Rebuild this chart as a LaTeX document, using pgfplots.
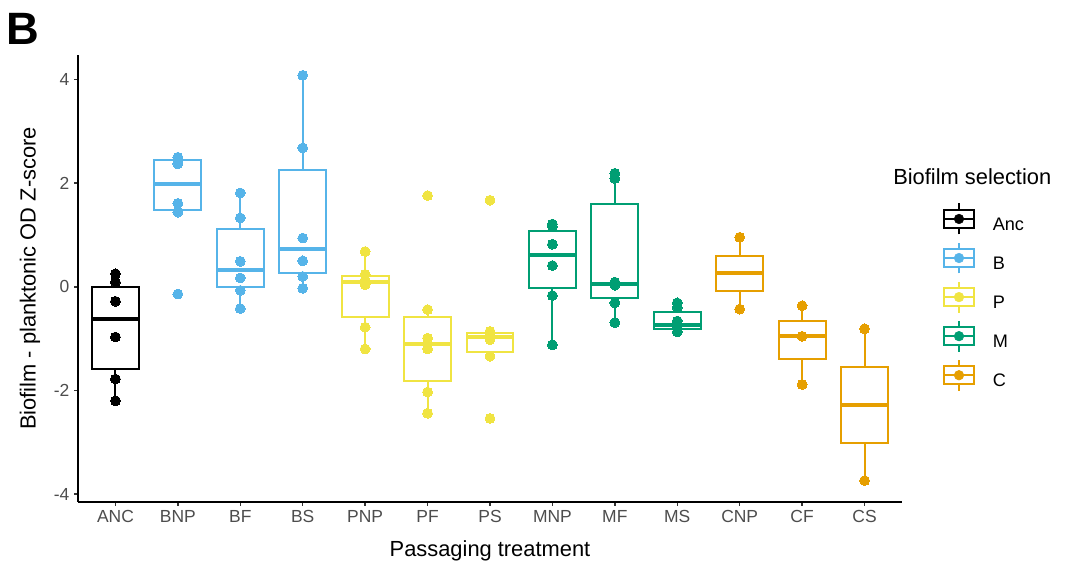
\documentclass[border=0pt]{standalone}
\usepackage{fontspec}
\setmainfont{Liberation Sans}
\usepackage{pgfplots}
\pgfplotsset{compat=1.18}
\usepgfplotslibrary{statistics}
\definecolor{cAnc}{HTML}{000000}
\definecolor{cB}{HTML}{56B4E9}
\definecolor{cP}{HTML}{F0E442}
\definecolor{cM}{HTML}{009E73}
\definecolor{cC}{HTML}{E69F00}
\definecolor{tickgray}{HTML}{4D4D4D}
\newcommand{\tickfont}{\fontsize{13.1}{15}\selectfont}
\newcommand{\titlefont}{\fontsize{16.4}{19}\selectfont}
\pgfplotsset{
  gbox/.style={draw=#1, line width=1.5pt, solid, fill=none, forget plot,
    boxplot/every box/.style={draw=#1, line width=1.5pt},
    boxplot/every whisker/.style={draw=#1, line width=1.5pt},
    boxplot/every median/.style={draw=#1, line width=3pt}},
  gpts/.style={only marks, mark=*, mark size=3.7pt, color=#1, mark options={draw=#1, fill=#1, line width=0pt},
    legend image code/.code={
      \draw[#1, line width=1.5pt] (0pt,-6.95pt) -- (0pt,-2.1pt) (0pt,11.4pt) -- (0pt,16.25pt);
      \draw[#1, line width=1.5pt, fill=white] (-11.6pt,-2.1pt) rectangle (11.6pt,11.4pt);
      \draw[#1, line width=1.5pt] (-11.6pt,4.65pt) -- (11.6pt,4.65pt);
      \fill[#1] (0pt,4.65pt) circle (3.6pt);
    }},
}
\begin{document}
\begin{tikzpicture}
\useasboundingbox (0,0) rectangle (805.5pt,429.75pt);
\begin{axis}[
  at={(58.5pt,53.25pt)}, anchor=south west,
  scale only axis, width=618pt, height=335.25pt,
  xmin=-0.6, xmax=12.6, ymin=-4.152, ymax=4.472,
  axis x line*=bottom, axis y line*=left,
  axis line style={line width=1.2pt, black, -},
  tick align=outside, major tick length=3pt,
  tick style={line width=1.1pt, color=black!80},
  xtick={0,1,2,3,4,5,6,7,8,9,10,11,12},
  xticklabels={ANC,BNP,BF,BS,PNP,PF,PS,MNP,MF,MS,CNP,CF,CS},
  ytick={-4,-2,0,2,4},
  yticklabels={-4,-2,0,2,4},
  ticklabel style={font=\tickfont, text=tickgray},
  xlabel={Passaging treatment},
  ylabel={Biofilm - planktonic OD Z-score},
  label style={font=\titlefont},
  xlabel style={at={(axis description cs:0.5,-0.1096)}, anchor=center},
  ylabel style={at={(axis description cs:-0.0583,0.5)}, anchor=center},
  boxplot/draw direction=y,
  boxplot/box extend=0.75,
  boxplot/whisker extend=0,
  legend style={at={(1.0492,0.670)}, anchor=north west, draw=none, fill=none,
    inner sep=0pt, outer sep=0pt, row sep=4.6pt, font=\fontsize{13.6}{15}\selectfont,
    nodes={inner sep=0pt},
    /tikz/every odd column/.append style={column sep=13pt}},
  legend cell align=left,
  clip=false,
]
% boxes
\addplot[gbox=cAnc, boxplot prepared={draw position=0, lower whisker=-2.20, lower quartile=-1.58, median=-0.63, upper quartile=0.00, upper whisker=0.25}] coordinates {};
\addplot[gbox=cB, boxplot prepared={draw position=1, lower whisker=1.44, lower quartile=1.48, median=1.99, upper quartile=2.44, upper whisker=2.50}] coordinates {};
\addplot[gbox=cB, boxplot prepared={draw position=2, lower whisker=-0.42, lower quartile=-0.01, median=0.33, upper quartile=1.12, upper whisker=1.81}] coordinates {};
\addplot[gbox=cB, boxplot prepared={draw position=3, lower whisker=-0.03, lower quartile=0.275, median=0.72, upper quartile=2.245, upper whisker=4.08}] coordinates {};
\addplot[gbox=cP, boxplot prepared={draw position=4, lower whisker=-1.20, lower quartile=-0.58, median=0.085, upper quartile=0.21, upper whisker=0.68}] coordinates {};
\addplot[gbox=cP, boxplot prepared={draw position=5, lower whisker=-2.44, lower quartile=-1.82, median=-1.10, upper quartile=-0.58, upper whisker=-0.44}] coordinates {};
\addplot[gbox=cP, boxplot prepared={draw position=6, lower whisker=-1.34, lower quartile=-1.25, median=-0.96, upper quartile=-0.885, upper whisker=-0.86}] coordinates {};
\addplot[gbox=cM, boxplot prepared={draw position=7, lower whisker=-1.12, lower quartile=-0.025, median=0.615, upper quartile=1.075, upper whisker=1.21}] coordinates {};
\addplot[gbox=cM, boxplot prepared={draw position=8, lower whisker=-0.69, lower quartile=-0.225, median=0.06, upper quartile=1.59, upper whisker=2.19}] coordinates {};
\addplot[gbox=cM, boxplot prepared={draw position=9, lower whisker=-0.87, lower quartile=-0.82, median=-0.73, upper quartile=-0.49, upper whisker=-0.31}] coordinates {};
\addplot[gbox=cC, boxplot prepared={draw position=10, lower whisker=-0.43, lower quartile=-0.09, median=0.26, upper quartile=0.596, upper whisker=0.955}] coordinates {};
\addplot[gbox=cC, boxplot prepared={draw position=11, lower whisker=-1.885, lower quartile=-1.40, median=-0.955, upper quartile=-0.667, upper whisker=-0.365}] coordinates {};
\addplot[gbox=cC, boxplot prepared={draw position=12, lower whisker=-3.74, lower quartile=-3.02, median=-2.28, upper quartile=-1.545, upper whisker=-0.81}] coordinates {};
% points
\addplot[gpts=cAnc] coordinates {(0,0.25) (0,0.09) (0,-0.28) (0,-0.97) (0,-1.78) (0,-2.20)};
\addlegendentry{Anc}
\addplot[gpts=cB] coordinates {(1,2.50) (1,2.44) (1,2.37) (1,1.61) (1,1.44) (1,-0.14)
  (2,1.81) (2,1.33) (2,0.49) (2,0.17) (2,-0.07) (2,-0.42)
  (3,4.08) (3,2.68) (3,0.94) (3,0.50) (3,0.20) (3,-0.03)};
\addlegendentry{B}
\addplot[gpts=cP] coordinates {(4,0.68) (4,0.24) (4,0.13) (4,0.04) (4,-0.78) (4,-1.20)
  (5,1.76) (5,-0.44) (5,-0.99) (5,-1.20) (5,-2.03) (5,-2.44)
  (6,1.67) (6,-0.86) (6,-0.93) (6,-1.02) (6,-1.34) (6,-2.54)};
\addlegendentry{P}
\addplot[gpts=cM] coordinates {(7,1.21) (7,1.16) (7,0.82) (7,0.41) (7,-0.17) (7,-1.12)
  (8,2.19) (8,2.09) (8,0.09) (8,0.03) (8,-0.31) (8,-0.69)
  (9,-0.31) (9,-0.40) (9,-0.66) (9,-0.75) (9,-0.80) (9,-0.87)};
\addlegendentry{M}
\addplot[gpts=cC] coordinates {(10,0.955) (10,-0.43)
  (11,-0.365) (11,-0.955) (11,-1.885)
  (12,-0.81) (12,-3.74)};
\addlegendentry{C}
\end{axis}
\node[anchor=west, inner sep=0pt, font=\titlefont] at (669.75pt,297pt) {Biofilm selection};
\node[anchor=base west, inner sep=0pt, font=\fontsize{34}{38}\selectfont\bfseries] at (5pt,396pt) {B};
\end{tikzpicture}
\end{document}
